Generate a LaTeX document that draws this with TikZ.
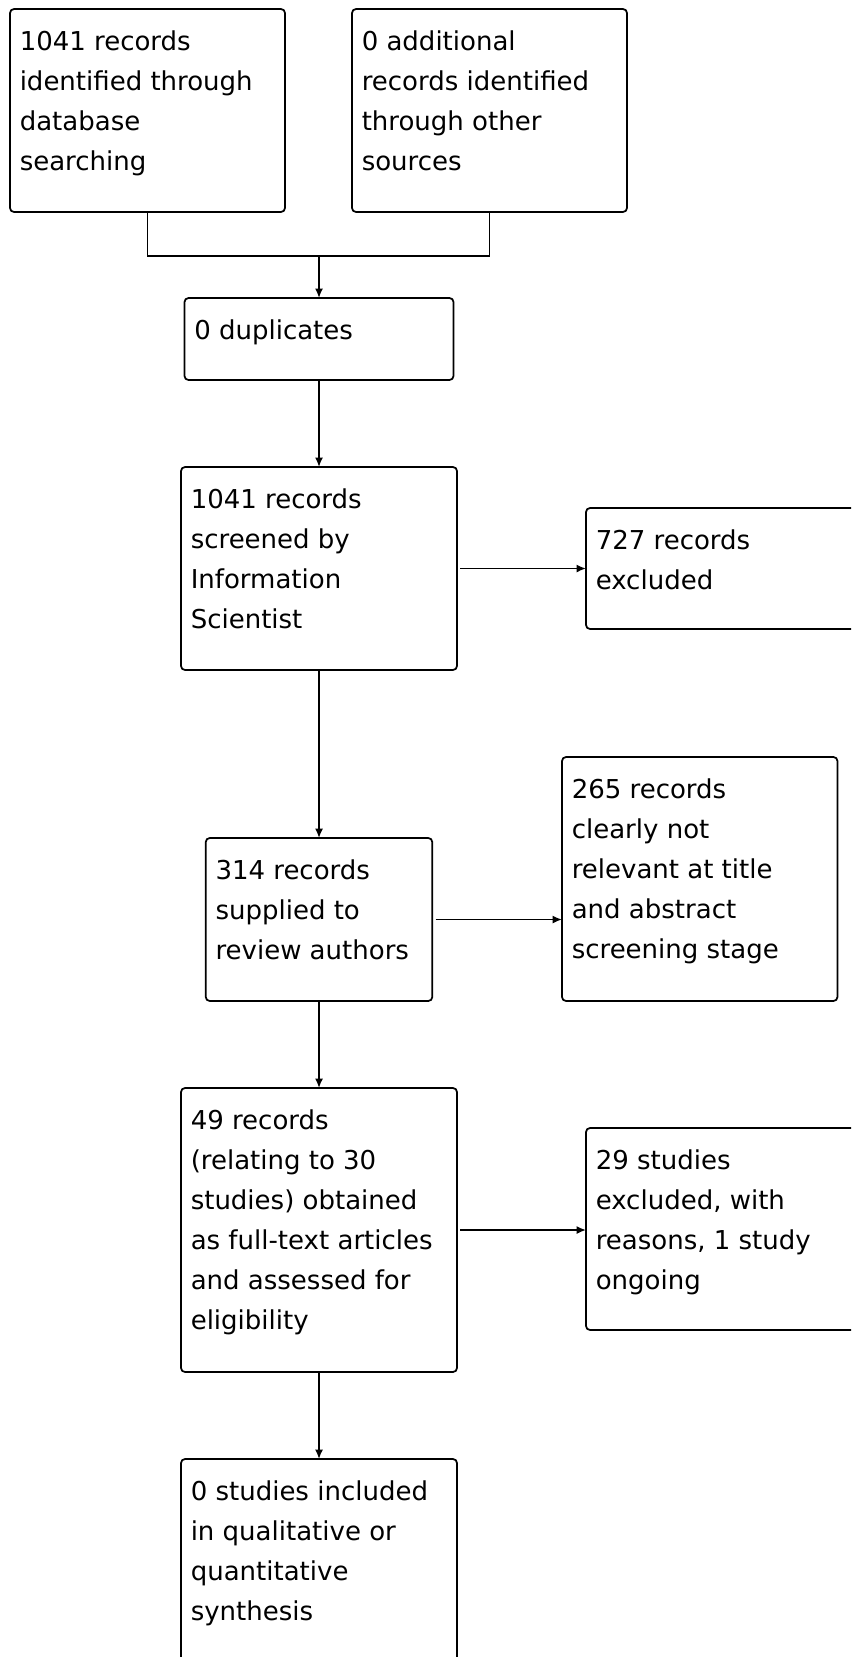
\documentclass[tikz,border=0pt]{standalone}
\usepackage{fontspec}
\setmainfont{DejaVu Sans}
\usepackage{tikz}
\usetikzlibrary{arrows.meta}
\tikzset{
box/.style={draw, line width=1.3pt, rounded corners=3pt, anchor=north west, inner sep=0pt, outer sep=0pt}, % the frame of one stage
txt/.style={anchor=north west, inner sep=0pt, align=left, font=\fontsize{19.5pt}{30pt}\selectfont}, % the words set in a frame
flow/.style={-{Latex[length=7pt,width=6pt]}, line width=1.3pt}, % arrows between the stages
}

\begin{document}
\begin{tikzpicture}[x=0.75pt,y=-0.75pt]
        \clip (0,0) rectangle (851,1657);
        % identification
        \node[box, minimum width=206.25pt, minimum height=152.25pt] (db) at (10,9) {};
        \node[txt] (dbt) at ([shift={(9.5,21)}]db.north west) {1041 records\\identified through\\database\\searching};
        \node[box, minimum width=206.25pt, minimum height=152.25pt] (oth) at (352,9) {};
        \node[txt] (otht) at ([shift={(9.5,21)}]oth.north west) {0 additional\\records identified\\through other\\sources};
        \node[box, minimum width=201.75pt, minimum height=61.5pt] (dup) at (184.5,298) {};
        \node[txt] (dupt) at ([shift={(9.5,21)}]dup.north west) {0 duplicates};
        % screening
        \node[box, minimum width=207pt, minimum height=152.25pt] (scr) at (181,467) {};
        \node[txt] (scrt) at ([shift={(9.5,21)}]scr.north west) {1041 records\\screened by\\Information\\Scientist};
        \node[box, minimum width=225pt, minimum height=90.75pt] (exa) at (586,508) {};
        \node[txt] (exat) at ([shift={(9.5,21)}]exa.north west) {727 records\\excluded};
        \node[box, minimum width=169.9pt, minimum height=122.25pt] (sup) at (205.75,838) {};
        \node[txt] (supt) at ([shift={(9.5,21)}]sup.north west) {314 records\\supplied to\\review authors};
        \node[box, minimum width=206.6pt, minimum height=183pt] (exb) at (562,757) {};
        \node[txt] (exbt) at ([shift={(9.5,21)}]exb.north west) {265 records\\clearly not\\relevant at title\\and abstract\\screening stage};
        % eligibility
        \node[box, minimum width=207pt, minimum height=213pt] (elig) at (181,1088) {};
        \node[txt] (eligt) at ([shift={(9.5,21)}]elig.north west) {49 records\\(relating to 30\\studies) obtained\\as full-text articles\\and assessed for\\eligibility};
        \node[box, minimum width=225pt, minimum height=151.5pt] (exc) at (586,1128) {};
        \node[txt] (exct) at ([shift={(9.5,21)}]exc.north west) {29 studies\\excluded, with\\reasons, 1 study\\ongoing};
        % included
        \node[box, minimum width=207pt, minimum height=195pt] (inc) at (181,1459) {};
        \node[txt] (inct) at ([shift={(9.5,21)}]inc.north west) {0 studies included\\in qualitative or\\quantitative\\synthesis};
        % connectors
        \coordinate (mrg) at (dup.north |- 0,256);
        \draw[line width=1.3pt] (db.south) |- (mrg) -| (oth.south);
        \draw[flow] (mrg) -- (dup.north);
        \draw[flow] (dup.south) -- (scr.north);
        \draw[flow, shorten <=2.5pt] (scr.east) -- (scr.east -| exa.west);
        \draw[flow] (scr.south) -- (sup.north);
        \draw[flow, shorten <=2.5pt] (sup.east) -- (sup.east -| exb.west);
        \draw[flow] (sup.south) -- (elig.north);
        \draw[flow, shorten <=2.5pt] (elig.east) -- (elig.east -| exc.west);
        \draw[flow] (elig.south) -- (inc.north);
\end{tikzpicture}
\end{document}
